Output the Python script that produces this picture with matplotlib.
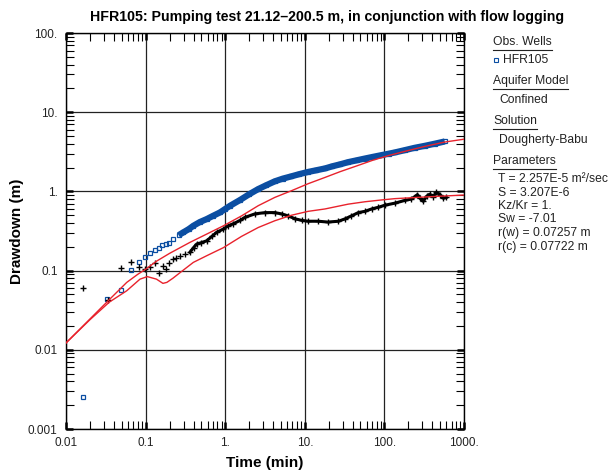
import matplotlib
matplotlib.use('Agg')
import matplotlib.pyplot as plt
from matplotlib.lines import Line2D

plt.rcParams['font.family'] = ['Liberation Sans', 'DejaVu Sans']

# observed drawdown at HFR105, time (min) / drawdown (m)
obs_t = [0.0165, 0.0327, 0.0487, 0.0656, 0.0826, 0.098, 0.1146, 0.13, 0.146, 0.162,
         0.18, 0.195, 0.223, 0.26, 0.298, 0.35, 0.398, 0.48, 0.585, 0.7, 0.862, 1.0,
         1.15, 1.54, 2.0, 2.6, 3.3, 4.2, 5.3, 6.8, 8.5, 11.0, 14.0, 18.0, 22.0, 28.0,
         35.0, 45.0, 57.0, 72.0, 92.0, 115.0, 135.0, 181.0, 240.0, 322.0, 430.0, 573.0]
obs_s = [0.0025, 0.044, 0.057, 0.103, 0.127, 0.147, 0.168, 0.18, 0.193, 0.21,
         0.215, 0.225, 0.25, 0.28, 0.304, 0.335, 0.368, 0.41, 0.447, 0.49, 0.543, 0.6,
         0.658, 0.78, 0.92, 1.07, 1.2, 1.34, 1.45, 1.55, 1.65, 1.76, 1.85, 1.95, 2.07, 2.2,
         2.34, 2.47, 2.6, 2.73, 2.87, 3.0, 3.1, 3.32, 3.55, 3.76, 4.0, 4.27]

# derivative of the observed drawdown
der_t = [0.0165, 0.0334, 0.049, 0.0656, 0.0826, 0.098, 0.1146, 0.131, 0.147, 0.165,
         0.18, 0.197, 0.223, 0.24, 0.27, 0.31, 0.36, 0.40, 0.44, 0.5, 0.585, 0.68,
         0.78, 0.95, 1.1, 1.26, 1.54, 1.77, 2.36, 3.17, 4.2, 5.1, 6.2, 7.6, 9.2, 11.0,
         14.8, 19.5, 26.5, 32.0, 38.5, 47.0, 57.0, 69.0, 84.0, 102.0, 135.0, 181.0,
         218.0, 260.0, 280.0, 308.0, 340.0, 370.0, 410.0, 450.0, 500.0, 550.0, 600.0]
der_s = [0.060, 0.042, 0.107, 0.129, 0.110, 0.105, 0.112, 0.124, 0.093, 0.115,
         0.104, 0.124, 0.14, 0.145, 0.155, 0.16, 0.17, 0.195, 0.217, 0.225, 0.238, 0.27,
         0.304, 0.335, 0.37, 0.39, 0.43, 0.47, 0.52, 0.54, 0.54, 0.52, 0.49, 0.45, 0.43, 0.42,
         0.42, 0.41, 0.42, 0.45, 0.49, 0.54, 0.56, 0.60, 0.63, 0.67, 0.71, 0.77,
         0.80, 0.91, 0.82, 0.75, 0.87, 0.92, 0.86, 0.97, 0.91, 0.82, 0.84]

# Dougherty-Babu type curve
fit_t = [0.01, 0.02, 0.035, 0.058, 0.08, 0.1, 0.138, 0.2, 0.36, 0.585, 0.95, 1.6, 2.6,
         4.2, 6.8, 11.0, 17.9, 28.0, 45.0, 72.0, 115.0, 180.0, 322.0, 573.0, 1000.0]
fit_s = [0.0122, 0.0245, 0.043, 0.071, 0.09, 0.104, 0.132, 0.165, 0.227, 0.289, 0.368, 0.49, 0.66,
         0.84, 1.02, 1.25, 1.5, 1.78, 2.1, 2.48, 2.85, 3.2, 3.7, 4.2, 4.56]

# type curve derivative
fitd_t = [0.01, 0.02, 0.035, 0.058, 0.085, 0.105, 0.137, 0.165, 0.185, 0.22, 0.27, 0.398,
          0.585, 0.95, 1.6, 2.6, 4.2, 6.8, 11.0, 17.9, 35.0, 57.0, 92.0, 135.0, 322.0, 1000.0]
fitd_s = [0.0122, 0.024, 0.04, 0.0557, 0.078, 0.084, 0.078, 0.069, 0.071, 0.08, 0.094, 0.127,
          0.154, 0.195, 0.27, 0.35, 0.426, 0.50, 0.56, 0.60, 0.69, 0.74, 0.78, 0.81, 0.85, 0.9]

xticks = [0.01, 0.1, 1, 10, 100, 1000]
xtick_labels = ['0.01', '0.1', '1.', '10.', '100.', '1000.']
yticks = [0.001, 0.01, 0.1, 1, 10, 100]
ytick_labels = ['0.001', '0.01', '0.1', '1.', '10.', '100.']

params = ['T = 2.257E-5 m\u00b2/sec', 'S = 3.207E-6', 'Kz/Kr = 1.', 'Sw = -7.01',
          'r(w) = 0.07257 m', 'r(c) = 0.07722 m']

blue = '#0b4ea2'
red = '#e8222c'
txt = '#222222'

W, H = 613, 474
fig = plt.figure(figsize=(W / 100, H / 100), dpi=100)
ax = fig.add_axes([66 / W, 1 - 429 / H, 398 / W, 396 / H])
ax.set_xscale('log')
ax.set_yscale('log')
ax.set_xlim(0.01, 1000)
ax.set_ylim(0.001, 100)

# dense part of the records drawn as a band plus markers
n0 = obs_t.index(0.26)
ax.plot(obs_t[n0:], obs_s[n0:], color=blue, lw=4.5, solid_capstyle='butt', zorder=3)
ax.plot(obs_t, obs_s, ls='none', marker='s', ms=3, mfc='none', mec=blue, mew=0.9, zorder=3)
m0 = der_t.index(0.36)
ax.plot(der_t[m0:], der_s[m0:], color='black', lw=2.2, zorder=4)
ax.plot(der_t, der_s, ls='none', marker='+', ms=4.5, mec='black', mew=1.0, zorder=4)

ax.plot(fit_t, fit_s, color=red, lw=1.0, zorder=5)
ax.plot(fitd_t, fitd_s, color=red, lw=1.0, zorder=5)

ax.set_xticks(xticks)
ax.set_xticklabels(xtick_labels)
ax.set_yticks(yticks)
ax.set_yticklabels(ytick_labels)
ax.grid(True, which='major', color=txt, lw=0.9)
ax.tick_params(which='both', direction='in', top=True, right=True, labelsize=8.5,
               labelcolor=txt)
ax.tick_params(which='major', length=5, width=1.8, pad=6)
ax.tick_params(which='minor', length=6, width=0.8)
for sp in ax.spines.values():
    sp.set_linewidth(1.0)

ax.set_xlabel('Time (min)', fontsize=11, fontweight='bold', labelpad=5)
ax.set_ylabel('Drawdown (m)', fontsize=11, fontweight='bold', labelpad=3)
fig.text(327 / W, 1 - 17 / H, 'HFR105: Pumping test 21.12\u2013200.5 m, in conjunction with flow logging',
         ha='center', va='center', fontsize=10.2, fontweight='bold')

# side panel
heads = [('Obs. Wells', 42), ('Aquifer Model', 81), ('Solution', 121.5), ('Parameters', 161)]
head_txt = []
for s, y in heads:
    head_txt.append(fig.text(493 / W, 1 - y / H, s, ha='left', va='center', fontsize=8.7, color=txt))
fig.text(503 / W, 1 - 60 / H, 'HFR105', ha='left', va='center', fontsize=8.7, color=txt)
fig.add_artist(Line2D([496 / W], [1 - 60 / H], marker='s', ms=2.5, mfc='none', mec=blue, mew=0.8))
fig.text(499 / W, 1 - 100 / H, 'Confined', ha='left', va='center', fontsize=8.7, color=txt)
fig.text(499 / W, 1 - 140 / H, 'Dougherty-Babu', ha='left', va='center', fontsize=8.7, color=txt)
for i, s in enumerate(params):
    fig.text(498 / W, 1 - (179 + 13.5 * i) / H, s, ha='left', va='center', fontsize=8.7, color=txt)

fig.canvas.draw()
r = fig.canvas.get_renderer()
for t in head_txt:
    bb = t.get_window_extent(r)
    yl = bb.y0 - 1.5
    fig.add_artist(Line2D([bb.x0 / W, bb.x1 / W], [yl / H, yl / H], color=txt, lw=0.8))

fig.savefig('out.png', dpi=100)
